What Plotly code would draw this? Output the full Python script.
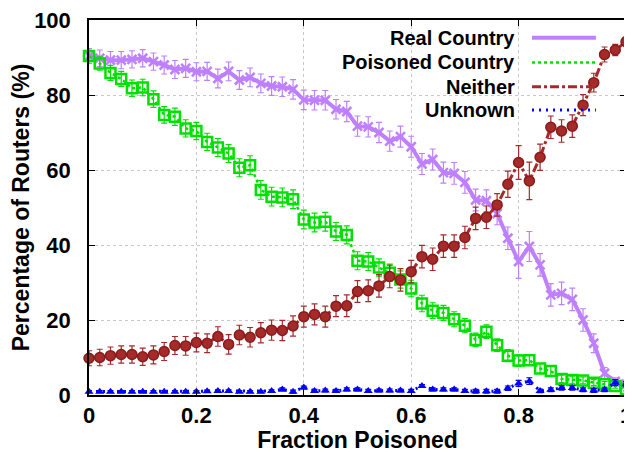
import plotly.graph_objects as go

fraction = [round(i * 0.02, 2) for i in range(51)]

real_country = [90.4, 89.8, 89.3, 89.3, 89.5, 89.8, 88.9, 88.0, 86.8, 87.1, 86.2, 86.3, 84.4, 86.3, 84.0, 84.7, 83.1, 82.4,
                82.2, 81.5, 78.7, 78.6, 78.6, 76.2, 75.6, 71.7, 71.5, 70.0, 67.7, 68.9, 66.2, 61.6, 62.8, 59.3, 59.1, 56.7,
                52.0, 51.8, 48.4, 41.8, 35.6, 39.6, 34.7, 26.7, 27.1, 25.5, 20.0, 13.8, 5.8, 3.6, 2.9]
real_country_err = [2.0, 2.2, 2.3, 2.3, 2.3, 2.3, 2.3, 2.4, 2.4, 2.4, 2.4, 2.4, 2.5, 2.5, 2.5, 2.5, 2.5, 2.5,
                    2.6, 2.6, 2.6, 2.6, 2.6, 2.6, 2.7, 2.7, 2.7, 2.7, 2.7, 2.8, 2.8, 2.8, 2.8, 2.8, 2.9, 2.9,
                    2.9, 2.9, 3.0, 3.0, 4.5, 4.0, 3.0, 3.0, 3.0, 3.0, 3.0, 2.5, 1.5, 1.0, 1.0]

poisoned_country = [90.4, 88.4, 85.9, 84.3, 81.8, 82.0, 78.9, 74.7, 74.2, 71.1, 70.4, 67.5, 66.0, 64.4, 60.6, 61.3, 54.7,
                    52.9, 52.7, 52.2, 46.8, 46.0, 46.2, 43.6, 42.7, 35.8, 35.6, 34.0, 32.6, 30.8, 28.4, 24.4, 22.5, 21.9,
                    20.2, 18.5, 14.7, 16.9, 13.3, 10.5, 9.2, 9.3, 7.1, 6.4, 4.3, 4.0, 3.9, 3.3, 2.9, 2.4, 1.6]
poisoned_country_err = [1.5, 1.8, 2.0, 2.0, 2.2, 2.2, 2.2, 2.2, 2.3, 2.3, 2.3, 2.3, 2.4, 2.4, 2.4, 2.5, 2.5,
                        2.5, 2.5, 2.5, 2.5, 2.5, 2.5, 2.4, 2.4, 2.4, 2.4, 2.3, 2.3, 2.3, 2.2, 2.2, 2.1, 2.0,
                        2.0, 1.9, 1.8, 1.8, 1.7, 1.6, 1.5, 1.4, 1.3, 1.2, 1.0, 1.0, 0.9, 0.8, 0.7, 0.6, 0.5]

neither = [9.8, 10.0, 10.5, 10.8, 10.8, 10.2, 10.7, 11.6, 13.2, 13.1, 14.0, 13.8, 15.6, 13.5, 16.0, 15.4, 16.6, 17.3,
           17.2, 18.4, 20.9, 21.5, 20.9, 23.7, 23.8, 27.6, 27.8, 29.1, 31.6, 30.7, 32.9, 36.9, 36.2, 39.7, 39.7, 42.0,
           47.1, 47.4, 50.7, 56.2, 62.0, 57.1, 63.4, 71.4, 70.4, 71.7, 77.3, 83.3, 90.8, 92.0, 94.2]
neither_err = [2.0, 2.2, 2.3, 2.3, 2.3, 2.3, 2.4, 2.4, 2.4, 2.5, 2.5, 2.5, 2.6, 2.6, 2.6, 2.6, 2.7, 2.7,
               2.7, 2.7, 2.8, 2.8, 2.8, 2.8, 2.9, 2.9, 2.9, 3.0, 3.0, 3.0, 3.0, 3.0, 3.0, 3.0, 3.0, 3.0,
               3.0, 3.0, 3.0, 3.5, 4.5, 5.0, 3.5, 3.0, 3.0, 3.0, 2.8, 2.5, 2.0, 1.5, 1.0]

unknown = [0.9, 0.9, 0.9, 0.9, 0.9, 0.9, 0.9, 0.9, 0.9, 0.9, 0.9, 1.0, 1.1, 1.1, 0.9, 0.9, 0.9, 1.1,
           1.5, 0.9, 2.0, 1.1, 1.2, 1.1, 1.5, 1.5, 1.1, 1.2, 1.2, 1.2, 1.1, 2.4, 1.5, 1.5, 1.5, 1.1,
           1.0, 1.0, 1.0, 1.8, 3.1, 3.7, 1.1, 1.4, 1.9, 1.9, 1.4, 1.2, 1.4, 3.3, 2.9]
unknown_err = [0.3] * 18 + [0.4] * 18 + [0.5, 0.5, 0.5, 0.6, 0.8, 0.9, 0.5, 0.5, 0.6, 0.6, 0.5, 0.5, 0.5, 0.8, 0.7]

series_names = ["Real Country", "Poisoned Country", "Neither", "Unknown"]
x_ticks = [0, 0.2, 0.4, 0.6, 0.8, 1]
x_tick_labels = ["0", "0.2", "0.4", "0.6", "0.8", "1"]
y_ticks = [0, 20, 40, 60, 80, 100]
y_tick_labels = ["0", "20", "40", "60", "80", "100"]

PURPLE = "#bf80ff"
GREEN = "#00e000"
BROWN = "#a52a2a"
BLUE = "#0000ff"
FONT = "Liberation Sans, Arial, sans-serif"

fig = go.Figure()

styles = [
    (real_country, real_country_err, PURPLE, dict(width=4, dash="solid"), dict(symbol="x-thin", size=9, line=dict(width=2.5, color=PURPLE))),
    (poisoned_country, poisoned_country_err, GREEN, dict(width=2.5, dash="dot"), dict(symbol="square-open", size=10, line=dict(width=2.5, color=GREEN))),
    (neither, neither_err, BROWN, dict(width=3, dash="dashdot"), dict(symbol="circle", size=10, line=dict(width=1.5, color="#8b1a1a"))),
    (unknown, unknown_err, BLUE, dict(width=3, dash="2px,5px"), dict(symbol="triangle-up", size=8, line=dict(width=0, color=BLUE))),
]

for name, (vals, errs, col, line, marker) in zip(series_names, styles):
    fig.add_trace(go.Scatter(
        x=fraction, y=vals, name=name, mode="lines+markers",
        line=dict(color=col, **line),
        marker=dict(color=col, **marker),
        error_y=dict(type="data", array=errs, visible=True, color=col, thickness=1.2, width=3),
        cliponaxis=False, showlegend=False,
    ))

# Legend drawn gnuplot-style: right-aligned text with sample lines to the right
legend_y = [0.953, 0.887, 0.822, 0.760]
legend_dash = ["solid", "dot", "dashdot", "2px,5px"]
legend_width = [4, 2.5, 3, 3]
legend_col = [PURPLE, GREEN, BROWN, BLUE]
for name, yy, dsh, wd, col in zip(series_names, legend_y, legend_dash, legend_width, legend_col):
    fig.add_annotation(x=0.797, y=yy, xref="paper", yref="paper", text=name, showarrow=False,
                       xanchor="right", yanchor="middle", font=dict(size=20, color="black", family=FONT, weight="bold"))
    fig.add_shape(type="line", xref="paper", yref="paper", x0=0.825, x1=0.944, y0=yy, y1=yy,
                  line=dict(color=col, width=wd, dash=dsh))

axis_common = dict(
    showline=True, linecolor="black", linewidth=1.5, mirror="ticks",
    ticks="inside", ticklen=6, tickwidth=1.2, tickcolor="black",
    showgrid=True, gridcolor="#c8c8c8", griddash="dot", gridwidth=1,
    zeroline=False, automargin=False, ticklabeloverflow="allow",
    tickfont=dict(size=22, color="black", family=FONT, weight="bold"),
)

fig.update_xaxes(range=[0, 1], tickvals=x_ticks, ticktext=x_tick_labels,
                 title=dict(text="Fraction Poisoned", font=dict(size=23, color="black", family=FONT, weight="bold"), standoff=0),
                 ticklabelstandoff=0, **axis_common)
fig.update_yaxes(range=[0, 100], tickvals=y_ticks, ticktext=y_tick_labels,
                 title=dict(text="Percentage of Routers (%)", font=dict(size=23, color="black", family=FONT, weight="bold"), standoff=6),
                 ticklabelstandoff=12, **axis_common)

# the page body adds an 8px offset, so the figure is 8px smaller on each axis
fig.update_layout(
    width=624, height=445,
    margin=dict(l=81, r=6, t=12, b=58),
    paper_bgcolor="white", plot_bgcolor="white",
    font=dict(family=FONT, color="black"),
)

fig.write_html("out.html")
